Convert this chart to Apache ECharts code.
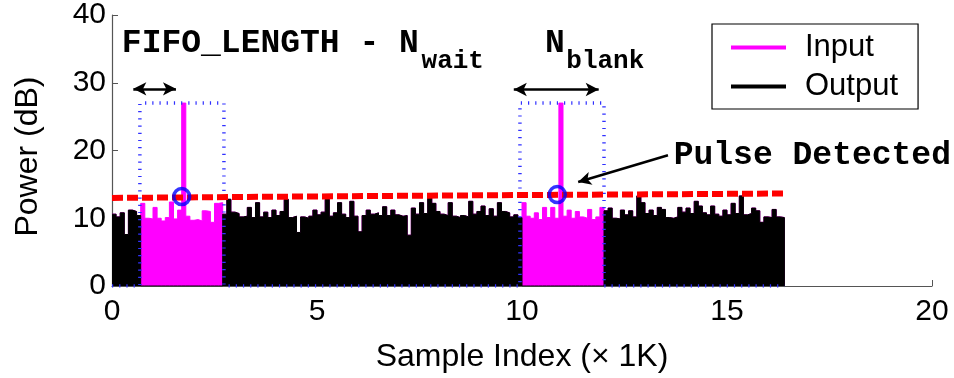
<!DOCTYPE html>
<html>
<head>
<meta charset="utf-8">
<script src="https://cdn.jsdelivr.net/npm/echarts@6/dist/echarts.min.js"></script>
<style>
  html, body { margin: 0; padding: 0; background: #fff; }
  #chart { width: 954px; height: 378px; }
</style>
</head>
<body>
<div id="chart"></div>
<script>
// one point per 0.1K samples
const STEP_K = 0.1;

// input power envelope (dB), index i -> i * STEP_K
const inputPower = [
  10.6, 10.2, 10.8, 7.6, 11.2, 11.0, 10.4,
  12.2, 10.0, 9.9, 11.6, 10.0, 9.6, 10.1, 12.4, 9.9, 11.2,
  27.0, 10.3, 9.7, 9.8, 9.6, 11.1, 11.0, 9.4, 12.2, 12.3,
  10.6, 12.8, 10.9, 10.7, 10.2, 10.3, 11.6, 10.1, 12.3, 10.2,
  10.9, 10.1, 11.2, 10.4, 11.0, 12.8, 10.1, 10.3, 7.9, 10.2,
  10.0, 10.3, 11.2, 10.5, 10.9, 12.8, 10.3, 10.8, 12.3, 10.6,
  10.1, 12.5, 10.3, 8.0, 10.4, 11.2, 10.6, 10.8, 10.4, 11.7,
  10.4, 11.2, 10.5, 10.3, 10.4, 7.5, 11.5, 10.6, 12.3, 10.7,
  13.3, 12.2, 11.0, 10.6, 10.4, 12.3, 10.3, 10.1, 10.4, 10.2,
  12.5, 10.6, 11.0, 11.8, 10.4, 11.4, 10.3, 12.3, 11.0, 10.8,
  10.2, 10.5, 10.1,
  12.3, 10.3, 10.0, 10.8, 9.8, 11.6, 10.1, 11.6, 10.0, 27.0,
  10.3, 11.2, 10.0, 11.0, 10.2, 10.0, 11.3, 9.8, 10.2, 11.6,
  11.1, 11.5, 10.0, 9.9, 11.2, 10.5, 11.1, 10.2, 13.3, 12.3,
  10.7, 11.2, 10.4, 11.6, 11.3, 10.1, 10.0, 10.2, 11.6, 10.9,
  11.5, 10.7, 12.5, 11.8, 10.8, 10.5, 11.8, 10.6, 10.3, 11.2,
  10.5, 12.2, 10.7, 13.3, 10.5, 10.7, 11.5, 11.1, 9.4, 10.2,
  10.1, 11.3, 10.2, 10.1,
  0
];

// blanked windows (K samples): output is zero here
const blankWindows = [[0.7, 2.7], [10.0, 12.0]];

// dotted blue blanking indicator
const indicatorK = [0, 0.68, 0.68, 2.73, 2.73, 9.95, 9.95, 12.0, 12.0, 16.4];
const indicatorDb = [0, 0, 27, 27, 0, 0, 27, 27, 0, 0];

// detection threshold (red dashed)
const thresholdK = [0, 8, 16.4];
const thresholdDb = [13.0, 13.35, 13.65];

// detected pulses (blue circles)
const detectK = [1.70, 10.86];
const detectDb = [13.2, 13.5];

// double arrows over the windows
const spanArrows = [
  { from: 0.52, to: 1.56, y: 29.1 },
  { from: 9.8, to: 11.87, y: 29.0 }
];
const pulseArrow = { from: [13.56, 19.3], to: [11.37, 15.35] };

// annotation texts, positioned at cap centre in data units
const notes = [
  { text: 'FIFO_LENGTH - N', x: 0.24, y: 35.7, size: 33 },
  { text: 'wait', x: 7.55, y: 33.2, size: 26 },
  { text: 'N', x: 10.56, y: 35.7, size: 33 },
  { text: 'blank', x: 11.08, y: 33.2, size: 26 },
  { text: 'Pulse Detected', x: 13.7, y: 19.2, size: 33 }
];

function isBlanked(k) {
  return blankWindows.some(w => k >= w[0] - 1e-9 && k < w[1] - 1e-9);
}

const inputData = inputPower.map((v, i) => [i * STEP_K, v]);
const outputData = inputPower.map((v, i) => [i * STEP_K, isBlanked(i * STEP_K) ? 0 : v]);

const chart = echarts.init(document.getElementById('chart'));
const font = 'Liberation Sans';

const option = {
  animation: false,
  backgroundColor: '#fff',
  grid: { left: 112, right: 22, top: 15, bottom: 92 },
  legend: {
    data: ['Input', 'Output'],
    orient: 'vertical',
    left: 712,
    top: 24,
    padding: [8, 20, 7, 19],
    itemGap: 8,
    itemWidth: 55,
    itemHeight: 4,
    icon: 'rect',
    borderColor: '#000',
    borderWidth: 1.2,
    backgroundColor: '#fff',
    textStyle: { fontSize: 31, fontFamily: font, color: '#000', padding: [0, 0, 0, 14] }
  },
  xAxis: {
    type: 'value',
    min: 0,
    max: 20,
    interval: 5,
    name: 'Sample Index (\u00d7 1K)',
    nameLocation: 'middle',
    nameGap: 55,
    nameTextStyle: { fontSize: 32, fontFamily: font, color: '#000' },
    axisLine: { lineStyle: { color: '#555', width: 1.2 } },
    axisTick: { inside: true, length: 6, lineStyle: { color: '#555' } },
    axisLabel: { fontSize: 30, fontFamily: font, color: '#000', margin: 11 },
    splitLine: { show: false }
  },
  yAxis: {
    type: 'value',
    min: 0,
    max: 40,
    interval: 10,
    name: 'Power (dB)',
    nameLocation: 'middle',
    nameRotate: 90,
    nameGap: 68,
    nameTextStyle: { fontSize: 32, fontFamily: font, color: '#000', padding: [0, 12, 0, 0] },
    axisLine: { show: true, lineStyle: { color: '#555', width: 1.2 } },
    axisTick: { show: true, inside: true, length: 6, lineStyle: { color: '#555' } },
    axisLabel: { fontSize: 30, fontFamily: font, color: '#000', margin: 6 },
    splitLine: { show: false }
  },
  series: [
    {
      name: 'Input',
      type: 'line',
      step: 'end',
      showSymbol: false,
      data: inputData,
      color: '#ff00ff',
      lineStyle: { color: '#ff00ff', width: 1 },
      areaStyle: { color: '#ff00ff', opacity: 1 },
      z: 2
    },
    {
      name: 'Output',
      type: 'line',
      step: 'end',
      showSymbol: false,
      data: outputData,
      color: '#000',
      lineStyle: { color: '#000', width: 1 },
      areaStyle: { color: '#000', opacity: 1 },
      z: 3
    },
    {
      name: 'blank',
      type: 'line',
      showSymbol: false,
      data: indicatorK.map((k, i) => [k, indicatorDb[i]]),
      lineStyle: { color: '#3030ff', width: 3.5, type: [1.2, 6], cap: 'butt' },
      z: 4
    },
    {
      name: 'threshold',
      type: 'line',
      showSymbol: false,
      data: thresholdK.map((k, i) => [k, thresholdDb[i]]),
      lineStyle: { color: '#ff0000', width: 6, type: [11, 4], cap: 'butt' },
      z: 5
    },
    {
      name: 'detect',
      type: 'scatter',
      symbol: 'circle',
      symbolSize: 16,
      data: detectK.map((k, i) => [k, detectDb[i]]),
      itemStyle: { color: 'rgba(0,0,0,0)', borderColor: '#0000ff', borderWidth: 3.5 },
      z: 6
    },
    {
      name: 'arrows',
      type: 'line',
      data: [],
      z: 7,
      markLine: {
        silent: true,
        symbol: ['arrow', 'arrow'],
        symbolSize: [10, 13],
        label: { show: false },
        lineStyle: { color: '#000', width: 2.5, type: 'solid' },
        data: spanArrows.map(a => [
          { coord: [a.from, a.y] },
          { coord: [a.to, a.y] }
        ]).concat([[
          { coord: pulseArrow.from, symbol: 'none' },
          { coord: pulseArrow.to, symbol: 'arrow' }
        ]])
      }
    }
  ]
};

chart.setOption(option);

const graphics = notes.map(n => {
  const p = chart.convertToPixel({ xAxisIndex: 0, yAxisIndex: 0 }, [n.x, n.y]);
  return {
    type: 'text',
    x: p[0],
    y: p[1],
    z: 100,
    style: {
      text: n.text,
      fill: '#000',
      font: 'bold ' + n.size + 'px "Liberation Mono", "Courier New", monospace',
      align: 'left',
      verticalAlign: 'middle'
    }
  };
});
chart.setOption({ graphic: graphics });
</script>
</body>
</html>
